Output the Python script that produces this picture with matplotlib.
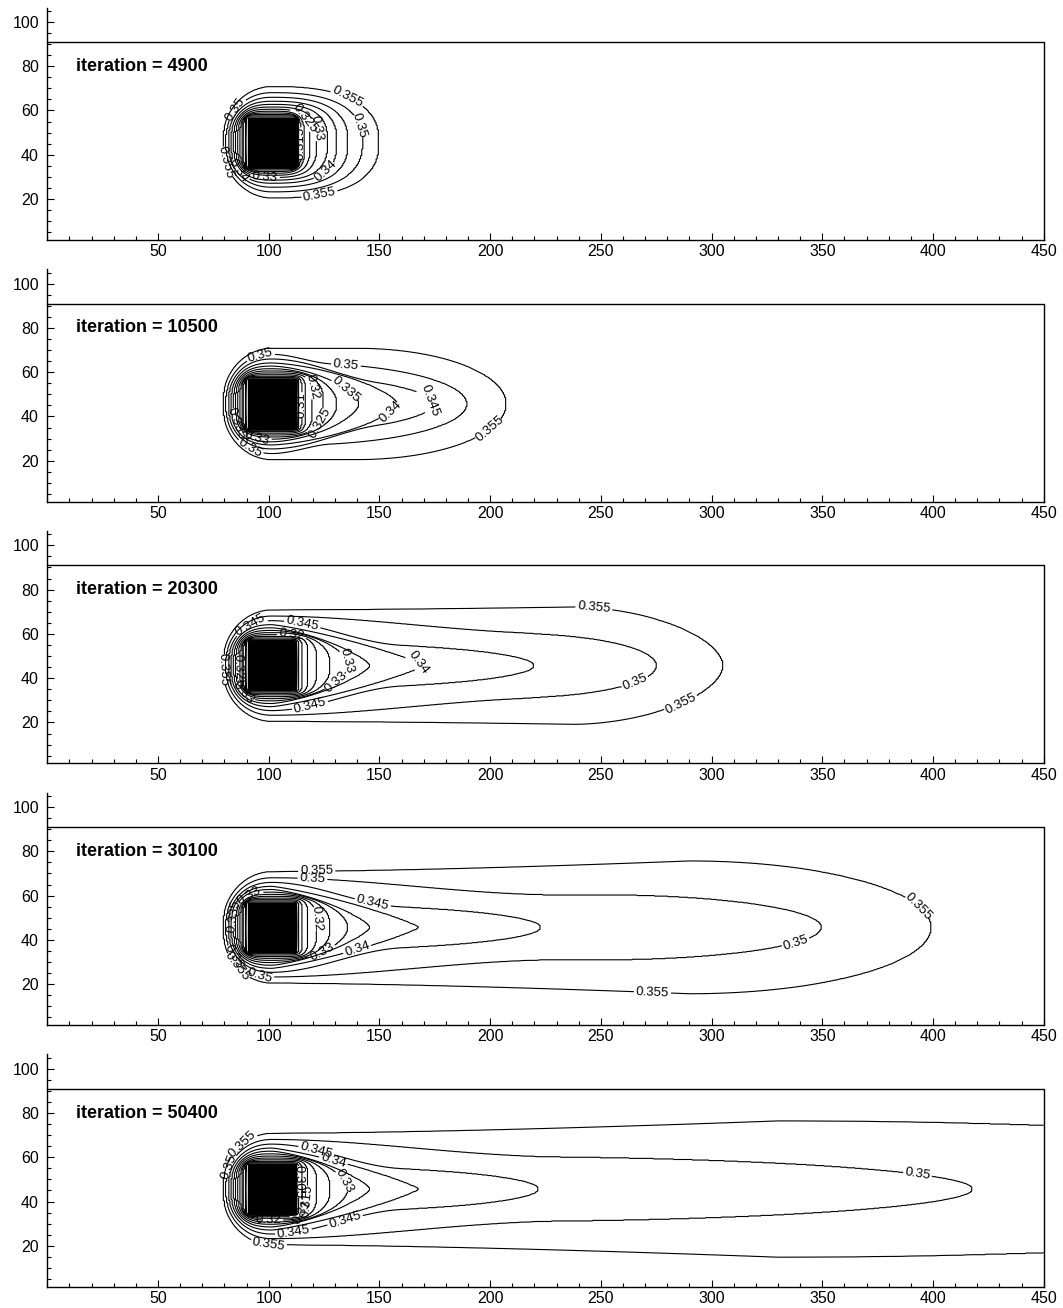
import numpy as np
import matplotlib
matplotlib.use("Agg")
import matplotlib.pyplot as plt
from matplotlib.patches import Rectangle
from matplotlib.ticker import MultipleLocator

plt.rcParams["font.family"] = ["Liberation Sans", "DejaVu Sans"]

ITERATIONS = [4900, 10500, 20300, 30100, 50400]
LEVELS = [0.300, 0.305, 0.310, 0.315, 0.320, 0.325, 0.330, 0.335, 0.340, 0.345, 0.350, 0.355]

# obstacle and channel
BLOCK_X = [90.5, 112.5]
BLOCK_Y = [34.5, 56.8]
CHANNEL_LEN = 450
CHANNEL_TOP = 91

# upstream side of each contour (same in every panel): left end, half height at block
NEAR_LEFT = [89.7, 89.0, 88.3, 87.5, 86.7, 85.8, 84.8, 83.8, 82.7, 81.5, 80.3, 79.0]
NEAR_HALF = [11.4, 11.9, 12.5, 13.2, 14.0, 14.9, 15.9, 17.1, 18.5, 20.3, 22.4, 25.1]
NEAR_NL = [24, 12, 7, 4.5, 3.6, 3.2, 2.9, 2.6, 2.4, 2.2, 2.1, 2.0]

# downstream side, per iteration:
#   WAKE_HALF  half width far from the block
#   WAKE_XS    x where the width has settled to WAKE_HALF
#   WAKE_XMAX  x where the nose starts
#   WAKE_TIP   x of the tip
#   WAKE_NOSE  nose shape exponent
WAKE_HALF = [
    [11.4, 11.9, 12.5, 13.2, 14.0, 14.9, 15.9, 17.1, 18.5, 20.3, 22.4, 25.1],
    [11.4, 11.9, 12.5, 13.2, 14.0, 14.9, 15.9, 17.1, 18.5, 12.0, 18.5, 25.1],
    [11.4, 11.9, 12.5, 13.2, 14.0, 14.9, 15.9, 17.1, 18.5, 10.3, 14.6, 26.5],
    [11.4, 11.9, 12.5, 13.2, 14.0, 14.9, 15.9, 17.1, 18.5, 10.3, 14.8, 30.0],
    [11.4, 11.9, 12.5, 13.2, 14.0, 14.9, 15.9, 17.1, 18.5, 10.3, 14.8, 30.8],
]
WAKE_XS = [
    [120, 120, 120, 120, 120, 120, 120, 120, 120, 120, 120, 120],
    [120, 120, 120, 120, 120, 120, 120, 120, 120, 150, 128, 140],
    [120, 120, 120, 120, 120, 120, 120, 120, 120, 160, 230, 238],
    [120, 120, 120, 120, 120, 120, 120, 120, 120, 160, 230, 290],
    [120, 120, 120, 120, 120, 120, 120, 120, 120, 160, 230, 330],
]
WAKE_XMAX = [
    [101.5] * 12,
    [101.5, 101.5, 101.5, 101.5, 101.5, 101.5, 101.5, 101.5, 101.5, 112, 112, 140],
    [101.5, 101.5, 101.5, 101.5, 101.5, 101.5, 101.5, 101.5, 101.5, 112, 210, 238],
    [101.5, 101.5, 101.5, 101.5, 101.5, 101.5, 101.5, 101.5, 101.5, 112, 250, 290],
    [101.5, 101.5, 101.5, 101.5, 101.5, 101.5, 101.5, 101.5, 101.5, 112, 195, 330],
]
WAKE_TIP = [
    [112.9, 113.3, 114.0, 115.0, 116.5, 119.0, 122.0, 126.8, 131.0, 136.0, 142.6, 150.0],
    [113.2, 114.0, 115.2, 117.0, 120.0, 125.0, 131.0, 141.0, 158.4, 174.0, 189.7, 207.5],
    [113.0, 114.0, 115.5, 118.0, 122.0, 128.0, 136.0, 146.0, 170.0, 220.0, 275.3, 305.4],
    [113.0, 114.0, 115.5, 118.0, 122.0, 128.0, 136.0, 146.0, 168.0, 223.0, 349.8, 399.4],
    [113.0, 114.0, 115.5, 118.0, 122.0, 128.0, 136.0, 146.0, 168.0, 222.0, 418.0, 676.0],
]
WAKE_NOSE = [
    [24, 12, 7, 4.5, 3.6, 3.2, 3.0, 2.8, 2.7, 2.6, 2.5, 2.5],
    [24, 12, 8, 5.5, 4, 2.8, 2.0, 1.6, 1.5, 2.0, 2.0, 2.0],
    [24, 12, 8, 5.5, 3.5, 2.4, 1.8, 1.35, 1.2, 2.0, 2.0, 1.8],
    [24, 12, 8, 5.5, 3.5, 2.4, 1.8, 1.35, 1.2, 2.0, 2.0, 2.0],
    [24, 12, 8, 5.5, 3.5, 2.4, 1.8, 1.35, 1.2, 2.0, 2.0, 2.0],
]

# where the contour labels sit
LABEL_POS = [
    [(137, 68), (139.7, 52.7), (123.2, 21.4), (127, 31.6), (122.4, 51.9), (116.1, 56.5),
     (85.5, 60.2), (81, 36.9), (98.3, 30.1), (86.7, 33.1), (115.2, 45.2)],
    [(96.1, 67.75), (134.8, 62.5), (119.4, 53.4), (133.7, 51.6), (154, 43.2), (171.7, 46.2),
     (200.3, 33.9), (122.9, 37.2), (114.9, 45.2), (84.8, 36.9), (90.8, 24.8), (94.6, 30.1)],
    [(91.2, 64.5), (115.2, 64.5), (110.4, 59.5), (133, 47), (167.6, 46.7), (129.2, 38.8),
     (118.7, 27.4), (79.5, 44), (85.5, 43.7), (88.5, 33.4), (246.9, 72.0), (265.7, 36.9),
     (286.1, 28.6)],
    [(121.7, 70.8), (119.7, 66.3), (146.8, 56.2), (123.2, 49.7), (123.9, 35.1), (139, 37.7),
     (95.8, 23.8), (85.5, 27.9), (91.2, 59.9), (84, 50.5), (84, 32.1), (393.4, 55),
     (338.5, 37.7), (273.3, 15.9)],
    [(88.8, 65.3), (122, 64.5), (129.2, 58.5), (131.4, 48.7), (114.1, 49), (118.6, 40),
     (116, 34.9), (99.8, 31.4), (111.1, 26.6), (135.5, 28.8), (99.8, 20.5), (82.8, 55.5),
     (392.4, 49.5)],
]

XC = 0.5 * (BLOCK_X[0] + BLOCK_X[1])
YC = 0.5 * (BLOCK_Y[0] + BLOCK_Y[1])
XG = np.arange(0, CHANNEL_LEN + 0.01, 0.5)
YG = np.arange(1.5, CHANNEL_TOP + 0.01, 0.25)


def contour_half_width(x, i, k):
    w = np.zeros_like(x)
    hb = NEAR_HALF[k]

    # upstream
    xl, nl = NEAR_LEFT[k], NEAR_NL[k]
    a = (x > xl) & (x < XC)
    u = (XC - x[a]) / (XC - xl)
    w[a] = hb * (1 - u ** nl) ** (1 / nl)

    # downstream: width settles from hb to hm, then closes in a nose
    hm, xs = WAKE_HALF[i][k], WAKE_XS[i][k]
    xm, xt, q = WAKE_XMAX[i][k], WAKE_TIP[i][k], WAKE_NOSE[i][k]
    b = (x >= XC) & (x < xt)
    xb = x[b]
    u = np.clip((xb - XC) / (xs - XC), 0, 1)
    if hm > hb:
        ramp = u ** 1.5
    else:
        ramp = u * u * (3 - 2 * u)
    env = hb + (hm - hb) * ramp
    t = np.clip((xb - xm) / (xt - xm), 0, 1)
    w[b] = env * (1 - t ** q) ** (1 / q)
    return w


def build_field(i):
    w = np.array([contour_half_width(XG, i, k) for k in range(len(LEVELS))])[:, None, :]
    dy = np.abs(YG - YC)[None, :, None]
    s = np.where(w > 1e-6, dy / np.maximum(w, 1e-6), 1e9)
    s = np.maximum.accumulate(s[::-1], axis=0)[::-1]

    lv = np.array(LEVELS)
    dl = lv[1] - lv[0]
    nk = len(lv)
    n_out = (s >= 1).sum(axis=0)
    kk = np.clip(n_out - 1, 0, nk - 2)
    s_lo = np.take_along_axis(s, kk[None], 0)[0]
    s_hi = np.take_along_axis(s, (kk + 1)[None], 0)[0]
    c = lv[kk] + dl * (s_lo - 1) / np.maximum(s_lo - s_hi, 1e-12)
    c = np.where(n_out == 0, lv[0] - dl * (1 - s[0]), c)
    c = np.where(n_out == nk, lv[-1] + dl * (1 - 1 / s[-1]), c)
    return c


fig = plt.figure(figsize=(10.63, 13.08), dpi=100)

for i, it in enumerate(ITERATIONS):
    bottom_px = 240 + 261.7 * i
    ax = fig.add_axes([47.3 / 1063, 1 - bottom_px / 1308, 996.4 / 1063, 105 * 2.214 / 1308])

    field = build_field(i)
    cs = ax.contour(XG, YG, field, levels=LEVELS, colors="black", linewidths=0.8)
    ax.clabel(cs, manual=LABEL_POS[i], inline=True, inline_spacing=2, fontsize=9.5,
              fmt=lambda v: f"{v:g}")

    ax.add_patch(Rectangle((BLOCK_X[0], BLOCK_Y[0]), BLOCK_X[1] - BLOCK_X[0],
                           BLOCK_Y[1] - BLOCK_Y[0], facecolor="black", edgecolor="black",
                           zorder=4))
    ax.plot([0, CHANNEL_LEN, CHANNEL_LEN], [CHANNEL_TOP, CHANNEL_TOP, 1.5],
            color="black", linewidth=1.0, zorder=5, clip_on=False)

    ax.text(13, 80, f"iteration = {it}", fontsize=13, fontweight="bold", va="center")

    ax.set_xlim(0, 450)
    ax.set_ylim(1.5, 106.5)
    ax.spines["top"].set_visible(False)
    ax.spines["right"].set_visible(False)
    ax.spines["left"].set_linewidth(1.0)
    ax.spines["bottom"].set_linewidth(1.0)
    ax.set_xticks(np.arange(50, 451, 50))
    ax.set_yticks(np.arange(20, 101, 20))
    ax.xaxis.set_minor_locator(MultipleLocator(10))
    ax.yaxis.set_minor_locator(MultipleLocator(5))
    ax.tick_params(which="both", direction="in", width=0.8, labelsize=11.5)
    ax.tick_params(which="major", length=5)
    ax.tick_params(which="minor", length=3)
    ax.tick_params(axis="y", which="major", pad=6)
    ax.tick_params(axis="x", which="major", pad=3)

fig.savefig("out.png", dpi=100)
